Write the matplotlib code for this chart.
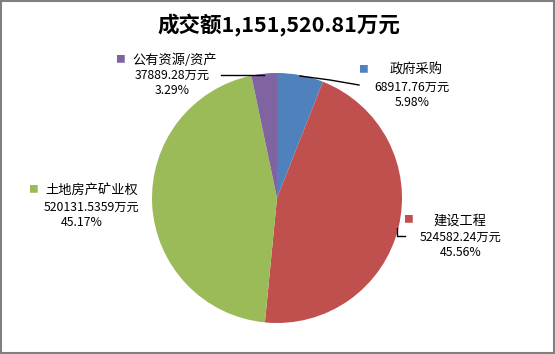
"""
成交额饼图: 政府采购 / 建设工程 / 土地房产矿业权 / 公有资源/资产
输出: out.png (555x354)
"""
import matplotlib
matplotlib.use('Agg')
import matplotlib.pyplot as plt
from matplotlib.patches import Rectangle

plt.rcParams['font.family'] = ['Noto Sans CJK SC', 'DejaVu Sans']

# 数据
title = '成交额1,151,520.81万元'
categories = ['政府采购', '建设工程', '土地房产矿业权', '公有资源/资产']
values = [68917.76, 524582.24, 520131.5359, 37889.28]
value_labels = ['68917.76万元', '524582.24万元', '520131.5359万元', '37889.28万元']
pct_labels = ['5.98%', '45.56%', '45.17%', '3.29%']
colors = ['#4F81BD', '#C0504D', '#9BBB59', '#8064A2']

W, H = 555, 354
fig = plt.figure(figsize=(W / 100, H / 100), dpi=100)
ax = fig.add_axes([0, 0, 1, 1])

# 饼图 (像素坐标, y向上)
cx, cy, r = 277, H - 198, 125
ax.pie(values, colors=colors, startangle=90, counterclock=False,
       center=(cx, cy), radius=r, frame=True,
       wedgeprops={'linewidth': 0})
ax.set_xlim(0, W)
ax.set_ylim(0, H)
ax.set_aspect('equal')
ax.axis('off')

# 标签位置 (像素, y向下): 方块x, 方块y, 名称中心x, 名称y, 数值中心x, 数值y, 百分比中心x, 百分比y
label_pos = [
    (363, 69, 416, 70, 412, 87, 412, 103),
    (408, 219, 460, 221, 461, 237, 461, 253),
    (33, 189, 92, 191, 92, 207, 82, 223),
    (120, 59, 175, 60, 172, 75, 172, 91),
]
fs_name = 9.5
fs_val = 8.8
for i, (mx, my, nx, ny, vx, vy, px, py) in enumerate(label_pos):
    ax.text(mx, H - my, '■', color=colors[i], fontsize=7, ha='center', va='center')
    ax.text(nx, H - ny, categories[i], fontsize=fs_name, ha='center', va='center', color='black')
    ax.text(vx, H - vy, value_labels[i], fontsize=fs_val, ha='center', va='center', color='black')
    ax.text(px, H - py, pct_labels[i], fontsize=fs_val, ha='center', va='center', color='black')

# 引导线
ax.plot([221, 264], [H - 75, H - 75], color='black', lw=1)
ax.plot([300, 330, 359], [H - 76, H - 80, H - 85], color='black', lw=1)
ax.plot([397, 397, 405], [H - 228, H - 236, H - 236], color='black', lw=1)

# 标题
ax.text(279, H - 25, title, fontsize=15.5, fontweight='bold', ha='center', va='center')

# 外框
fig.patches.append(Rectangle((0.75 / W, 0.75 / H), 1 - 1.75 / W, 1 - 1.75 / H,
                             transform=fig.transFigure, fill=False,
                             edgecolor='#808080', linewidth=1.5))

fig.savefig('out.png', dpi=100, facecolor='white')
